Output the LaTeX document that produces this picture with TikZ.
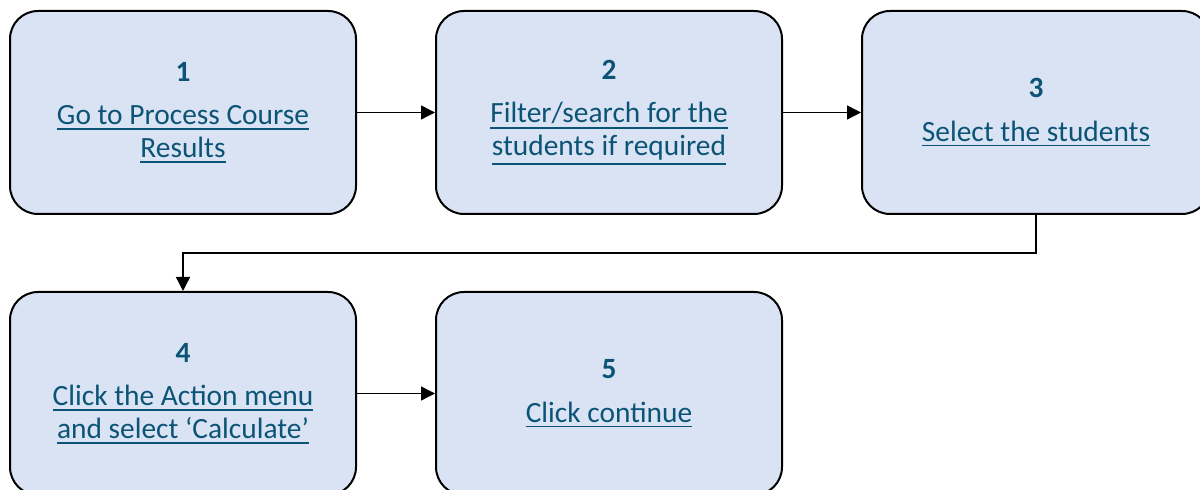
\documentclass[tikz,border=0pt]{standalone}
\usepackage{fontspec}
\setmainfont{Carlito}
\definecolor{flow_fill}{RGB}{218, 227, 243}
\definecolor{flow_text}{RGB}{12, 84, 118}
\usetikzlibrary{arrows.meta, positioning, calc}

\tikzset{
  stepbox/.style={draw=black, line width=1pt, fill=flow_fill, rounded corners=14pt,
    minimum width=173pt, minimum height=101.5pt, align=center,
    text=flow_text, font=\fontsize{14.7pt}{16.2pt}\selectfont},
  flowarrow/.style={draw=black, line width=0.7pt, -{Triangle[length=7pt, width=7pt]}}
}
\newcommand{\stepno}[1]{{\bfseries #1}\\[5.5pt]}
% underlined link text
\newcommand{\stepline}[1]{\setbox0\hbox{#1}\vtop{\copy0\kern1.6pt\hrule height 0.9pt width \wd0}}

\begin{document}
\begin{tikzpicture}[x=0.5pt, y=-0.5pt]
  \useasboundingbox (0,0) rectangle (1200,490);
  % first row
  \node[stepbox] (s1) at (183, 112.5) {\stepno{1}\stepline{Go to Process Course}\\\stepline{Results}};
  \node[stepbox] (s2) at (609, 112.5) {\stepno{2}\stepline{Filter/search for the}\\\stepline{students if required}};
  \node[stepbox, minimum width=174pt] (s3) at (1036, 112.5) {\stepno{3}\stepline{Select the students}};
  % second row
  \node[stepbox] (s4) at (183, 393.5) {\stepno{4}\stepline{Click the Action menu}\\\stepline{and select ‘Calculate’}};
  \node[stepbox] (s5) at (609, 393.5) {\stepno{5}\stepline{Click continue}};

  \draw[flowarrow] (s1) -- (s2);
  \draw[flowarrow] (s2) -- (s3);
  \draw[flowarrow] (s3.south) -- ++(0,-19pt) -| (s4.north);
  \draw[flowarrow] (s4) -- (s5);
\end{tikzpicture}
\end{document}
